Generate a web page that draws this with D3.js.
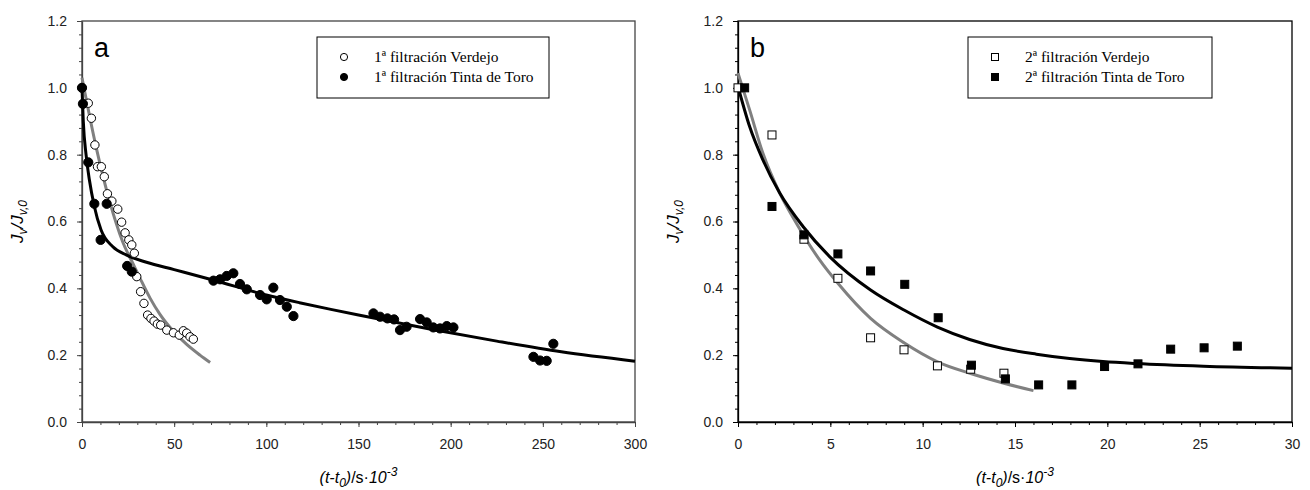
<!DOCTYPE html>
<html>
  <head>
    <meta charset="utf-8">
    <title>Flux decline</title>
    <script src="https://d3js.org/d3.v7.min.js"></script>
    <style>
      body { margin: 0; background: #fff; }
    </style>
  </head>
  <body>

    <script>
      // ==================
      // Data
      // ==================

      // panel a : first filtration
      const verdejo1X = [0, 3.4, 5.1, 7.0, 8.4, 10.5, 12.1, 13.8, 16.2, 19.4, 21.5, 23.4, 25.4, 27.0, 28.4, 29.7, 31.8, 33.6, 35.6, 37.4, 39.1, 40.9, 42.7, 46.0, 49.6, 52.8, 55.0, 56.8, 58.6, 60.4];
      const verdejo1Y = [1.0, 0.954, 0.909, 0.829, 0.764, 0.764, 0.734, 0.683, 0.661, 0.637, 0.598, 0.566, 0.545, 0.53, 0.505, 0.435, 0.39, 0.355, 0.32, 0.31, 0.302, 0.293, 0.29, 0.275, 0.267, 0.26, 0.273, 0.266, 0.255, 0.248];

      const toro1X = [0, 0.5, 3.4, 6.7, 10.1, 13.4, 24.5, 27.0, 71.3, 74.9, 78.5, 82.1, 85.7, 89.4, 96.6, 100.2, 103.8, 107.4, 111.1, 114.7, 158.1, 161.7, 165.7, 169.3, 172.5, 176.1, 183.4, 187.0, 190.6, 194.2, 197.9, 201.5, 244.9, 248.5, 252.1, 255.7];
      const toro1Y = [1.0, 0.952, 0.777, 0.653, 0.545, 0.653, 0.467, 0.45, 0.423, 0.427, 0.437, 0.445, 0.413, 0.397, 0.38, 0.367, 0.402, 0.365, 0.345, 0.317, 0.325, 0.315, 0.31, 0.307, 0.275, 0.285, 0.308, 0.298, 0.283, 0.28, 0.287, 0.283, 0.195, 0.184, 0.183, 0.234];

      // fitted curves
      const fitVerdejo1X = [0, 7.6, 15, 22, 28, 31.5, 37, 42.3, 49.5, 56.8, 64, 69.5];
      const fitVerdejo1Y = [1.03, 0.824, 0.66, 0.54, 0.47, 0.43, 0.37, 0.322, 0.272, 0.232, 0.2, 0.178];

      const fitToro1X = [0, 0.7, 2.2, 4, 6.7, 10.3, 16.6, 24, 35, 50, 71, 100, 118, 135, 150, 190, 225, 260, 300];
      const fitToro1Y = [1.0, 0.9, 0.8, 0.725, 0.645, 0.575, 0.525, 0.5, 0.478, 0.456, 0.425, 0.38, 0.357, 0.337, 0.32, 0.277, 0.242, 0.21, 0.182];

      // panel b : second filtration
      const verdejo2X = [0, 1.84, 3.57, 5.41, 7.18, 8.99, 10.8, 12.6, 14.4];
      const verdejo2Y = [1.0, 0.859, 0.547, 0.43, 0.252, 0.216, 0.168, 0.158, 0.146];

      const toro2X = [0.36, 1.84, 3.57, 5.41, 7.18, 9.03, 10.84, 12.64, 14.48, 16.28, 18.08, 19.85, 21.66, 23.43, 25.24, 27.04];
      const toro2Y = [1.0, 0.645, 0.56, 0.503, 0.452, 0.412, 0.312, 0.17, 0.129, 0.111, 0.111, 0.166, 0.174, 0.218, 0.222, 0.227];

      const fitVerdejo2X = [0, 0.63, 1.35, 2.26, 3.16, 4.42, 5.41, 7.18, 8.99, 10.8, 12.6, 14.4, 16];
      const fitVerdejo2Y = [1.044, 0.934, 0.804, 0.685, 0.595, 0.485, 0.415, 0.31, 0.237, 0.18, 0.145, 0.116, 0.094];

      const fitToro2X = [0, 0.63, 1.35, 2.26, 3.52, 4.96, 7.18, 8.99, 10.8, 12.54, 14.35, 16.16, 17.96, 19.76, 21.57, 25.2, 30];
      const fitToro2Y = [1.004, 0.884, 0.784, 0.685, 0.585, 0.495, 0.395, 0.335, 0.284, 0.247, 0.22, 0.203, 0.19, 0.181, 0.175, 0.167, 0.161];

      // ticks and labels
      const yTicks = [0, 0.2, 0.4, 0.6, 0.8, 1.0, 1.2];
      const xTicksA = [0, 50, 100, 150, 200, 250, 300];
      const xTicksB = [0, 5, 10, 15, 20, 25, 30];
      const legendA = ["1ª filtración Verdejo", "1ª filtración Tinta de Toro"];
      const legendB = ["2ª filtración Verdejo", "2ª filtración Tinta de Toro"];

      const width = 1310;
      const height = 490;

      const svg = d3.select("body")
        .append("svg")
          .attr("width", width)
          .attr("height", height)
          .style("font-family", "Arial, 'Liberation Sans', sans-serif");

      function zip(xs, ys) {
        return xs.map(function(x, i) { return {x: x, y: ys[i]}; });
      }

      // ==================
      // One panel
      // ==================
      function drawPanel(p) {
        const xScale = d3.scaleLinear().domain([0, p.xMax]).range([p.left, p.right]);
        const yScale = d3.scaleLinear().domain([0, 1.2]).range([p.bottom, p.top]);

        const g = svg.append("g");

        // frame
        g.append("rect")
          .attr("x", p.left)
          .attr("y", p.top)
          .attr("width", p.right - p.left)
          .attr("height", p.bottom - p.top)
          .attr("fill", "none")
          .attr("stroke", p.frameColor)
          .attr("stroke-width", 1.3);

        // minor ticks
        g.append("g")
          .attr("transform", "translate(0," + p.bottom + ")")
          .call(d3.axisBottom(xScale).tickValues(d3.range(0, p.xMax + 1e-9, p.xMinor)).tickSize(3).tickSizeOuter(0).tickFormat(""))
          .call(function(a) { a.select(".domain").remove(); });
        g.append("g")
          .attr("transform", "translate(" + p.left + ",0)")
          .call(d3.axisLeft(yScale).tickValues(d3.range(0, 1.2 + 1e-9, 0.04)).tickSize(3).tickSizeOuter(0).tickFormat(""))
          .call(function(a) { a.select(".domain").remove(); });

        // major ticks
        const xAxis = g.append("g")
          .attr("transform", "translate(0," + p.bottom + ")")
          .call(d3.axisBottom(xScale).tickValues(p.xTicks).tickSize(5).tickPadding(12).tickSizeOuter(0).tickFormat(d3.format("d")));
        const yAxis = g.append("g")
          .attr("transform", "translate(" + p.left + ",0)")
          .call(d3.axisLeft(yScale).tickValues(yTicks).tickSize(5).tickPadding(10).tickSizeOuter(0).tickFormat(d3.format(".1f")));

        [xAxis, yAxis].forEach(function(a) {
          a.selectAll("text")
            .style("font-family", "Arial, 'Liberation Sans', sans-serif")
            .style("font-size", "14px")
            .attr("fill", "#222");
          a.select(".domain").attr("stroke", p.frameColor).attr("stroke-width", 1.3);
        });
        g.selectAll(".tick line").attr("stroke", p.frameColor);

        // fitted curves
        const line = d3.line()
          .x(function(d) { return xScale(d.x); })
          .y(function(d) { return yScale(d.y); })
          .curve(d3.curveMonotoneX);

        g.append("path")
          .attr("d", line(p.fitOpen))
          .attr("fill", "none")
          .attr("stroke", "#808080")
          .attr("stroke-width", 3);
        g.append("path")
          .attr("d", line(p.fitFilled))
          .attr("fill", "none")
          .attr("stroke", "#000")
          .attr("stroke-width", 3);

        // markers
        function marker(sel, fill) {
          if (p.shape === "circle") {
            sel.append("circle")
              .attr("cx", function(d) { return xScale(d.x); })
              .attr("cy", function(d) { return yScale(d.y); })
              .attr("r", fill === "#000" ? 4.6 : 4.2)
              .attr("fill", fill)
              .attr("stroke", "#000")
              .attr("stroke-width", 1);
          } else {
            sel.append("rect")
              .attr("x", function(d) { return xScale(d.x) - 4; })
              .attr("y", function(d) { return yScale(d.y) - 4; })
              .attr("width", 8)
              .attr("height", 8)
              .attr("fill", fill)
              .attr("stroke", "#000")
              .attr("stroke-width", 1);
          }
        }

        g.append("g").selectAll("g").data(p.open).join("g").call(marker, "#fff");
        g.append("g").selectAll("g").data(p.filled).join("g").call(marker, "#000");

        // panel letter
        g.append("text")
          .attr("x", p.left + 12)
          .attr("y", p.top + 36)
          .style("font-size", "27px")
          .attr("fill", "#000")
          .text(p.letter);

        // legend
        const lg = g.append("g");
        lg.append("rect")
          .attr("x", p.legendX)
          .attr("y", 37)
          .attr("width", p.legendW)
          .attr("height", 61)
          .attr("fill", "#fff")
          .attr("stroke", "#000")
          .attr("stroke-width", 1);
        p.legend.forEach(function(label, i) {
          const cy = 57 + i * 20;
          const sx = p.legendX + 27;
          const fill = i === 0 ? "#fff" : "#000";
          if (p.shape === "circle") {
            lg.append("circle").attr("cx", sx).attr("cy", cy).attr("r", 3.6)
              .attr("fill", fill).attr("stroke", "#000").attr("stroke-width", 1);
          } else {
            lg.append("rect").attr("x", sx - 3.5).attr("y", cy - 3.5).attr("width", 7).attr("height", 7)
              .attr("fill", fill).attr("stroke", "#000").attr("stroke-width", 1);
          }
          lg.append("text")
            .attr("x", p.legendX + 57)
            .attr("y", cy + 5)
            .style("font-family", "'Liberation Serif', 'Times New Roman', serif")
            .style("font-size", "15.5px")
            .attr("fill", "#000")
            .text(label);
        });

        // x title: (t-t0)/s·10^-3
        const xt = g.append("text")
          .attr("x", (p.left + p.right) / 2)
          .attr("y", 483)
          .attr("text-anchor", "middle")
          .style("font-size", "16px")
          .attr("fill", "#000");
        xt.append("tspan").style("font-style", "italic").text("(t-t");
        xt.append("tspan").style("font-style", "italic").style("font-size", "12px").attr("dy", 4).text("0");
        xt.append("tspan").style("font-style", "italic").attr("dy", -4).text(")");
        xt.append("tspan").text("/s·");
        xt.append("tspan").style("font-style", "italic").text("10");
        xt.append("tspan").style("font-style", "italic").style("font-size", "12px").attr("dy", -7).text("-3");

        // y title: Jv/Jv,0
        const yt = g.append("text")
          .attr("transform", "translate(" + (p.left - 59) + "," + ((p.top + p.bottom) / 2) + ") rotate(-90)")
          .attr("text-anchor", "middle")
          .style("font-size", "17px")
          .style("font-style", "italic")
          .attr("fill", "#000");
        yt.append("tspan").text("J");
        yt.append("tspan").style("font-size", "12px").attr("dy", 4).text("v");
        yt.append("tspan").attr("dy", -4).text("/J");
        yt.append("tspan").style("font-size", "12px").attr("dy", 4).text("v,0");
      }

      drawPanel({
        left: 82, right: 635, top: 21, bottom: 422,
        xMax: 300, xMinor: 10, xTicks: xTicksA,
        frameColor: "#444",
        shape: "circle",
        open: zip(verdejo1X, verdejo1Y),
        filled: zip(toro1X, toro1Y),
        fitOpen: zip(fitVerdejo1X, fitVerdejo1Y),
        fitFilled: zip(fitToro1X, fitToro1Y),
        letter: "a",
        legend: legendA, legendX: 317, legendW: 232
      });

      drawPanel({
        left: 738, right: 1292, top: 21, bottom: 422,
        xMax: 30, xMinor: 1, xTicks: xTicksB,
        frameColor: "#000",
        shape: "square",
        open: zip(verdejo2X, verdejo2Y),
        filled: zip(toro2X, toro2Y),
        fitOpen: zip(fitVerdejo2X, fitVerdejo2Y),
        fitFilled: zip(fitToro2X, fitToro2Y),
        letter: "b",
        legend: legendB, legendX: 968, legendW: 244
      });
    </script>
  </body>
</html>
